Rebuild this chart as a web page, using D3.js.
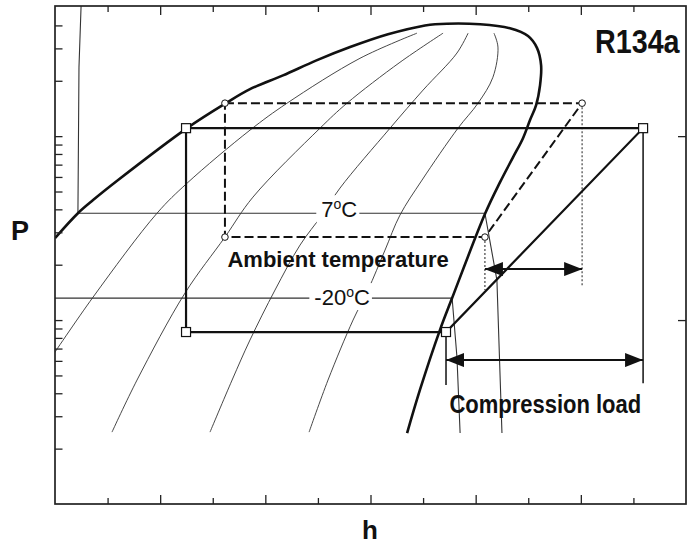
<!DOCTYPE html>
<html>
<head>
<meta charset="utf-8">
<script src="https://cdnjs.cloudflare.com/ajax/libs/d3/7.8.5/d3.min.js"></script>
<style>
  body { margin:0; background:#fff; }
  svg { display:block; }
  text { font-family: "Liberation Sans", Arial, sans-serif; fill:#111; }
</style>
</head>
<body>
<script>
// P-h diagram, h in kJ/kg, P in bar (log scale). values
var hTicks = [225, 250, 275, 300, 325, 350, 375, 400, 425, 450, 475];
var pTicksRight = [1, 10];

// saturation dome, liquid side -> critical point -> vapour side
var dome = [[200.0, 2.79], [210.9, 3.81], [218.1, 4.49], [230.0, 5.77], [262.8, 11.05],
  [281.3, 15.11], [292.7, 18.0], [308.4, 21.4], [324.6, 25.9], [340.3, 30.5], [358.3, 35.8],
  [375.9, 40.0], [380.7, 40.6], [402.1, 40.6], [416.3, 38.6], [424.9, 35.0], [429.2, 30.1],
  [431.1, 24.3], [430.6, 18.9], [428.7, 14.7], [425.8, 12.2], [422.5, 9.75], [417.8, 7.69],
  [411.6, 5.62], [404.4, 3.77], [388.8, 1.317], [383.0, 0.882], [373.5, 0.417], [367.4, 0.243]];

// constant quality lines inside the dome
var q1 = [[372.1, 36.3], [345.0, 26.5], [310.3, 15.1], [292.7, 10.78], [262.8, 5.55], [248.5, 3.81], [218.1, 1.333], [198, 0.62]];
var q2 = [[384.5, 36.3], [364.0, 25.2], [338.8, 15.1], [326.0, 11.05], [294.1, 4.66], [280.8, 2.826], [261.8, 1.402], [239.0, 0.472], [227.1, 0.246]];
var q3 = [[396.4, 36.3], [391.1, 28.3], [375.0, 17.8], [359.3, 11.05], [335.5, 5.22], [326.9, 3.72], [316.5, 2.557], [304.6, 1.456], [292.7, 0.779], [284.2, 0.472], [273.7, 0.246]];
var q4 = [[408.7, 36.3], [410.6, 30.5], [408.2, 20.9], [401.1, 15.1], [391.6, 11.05], [374.5, 5.77], [364.0, 3.72], [356.9, 2.40], [348.8, 1.456], [341.7, 1.0], [329.8, 0.472], [320.8, 0.246]];

// isotherms
var t7 = [[212.4, 51], [211.4, 23.7], [210.9, 3.81], [404.4, 3.81], [410.1, 1.65], [412.5, 0.243]];
var tm20 = [[198, 1.317], [388.8, 1.317], [391.1, 0.630], [392.6, 0.243]];

// cycles
var cycleSolid = [[262.3, 11.05], [479.6, 11.05], [385.9, 0.861], [262.3, 0.861]];
var cycleDashed = [[280.8, 15.11], [450.6, 15.11], [404.4, 2.826], [280.8, 2.826]];

// guides and dimension arrows
var dotted = [[[450.6, 15.11], [450.6, 1.512]], [[404.4, 2.826], [404.4, 1.456]]];
var extLines = [[[385.9, 0.861], [385.9, 0.443]], [[479.6, 11.05], [479.6, 0.454]]];
var arrowAmbient = [[404.4, 1.893], [450.6, 1.893]];
var arrowLoad = [[385.9, 0.606], [479.6, 0.606]];

var W = 689, H = 544;
var x = d3.scaleLinear().domain([200, 500]).range([55, 686]);
var y = d3.scaleLog().domain([0.1, 51]).range([504, 6]);

var svg = d3.select("body").append("svg").attr("width", W).attr("height", H);

var defs = svg.append("defs");
defs.append("clipPath").attr("id", "plot")
  .append("rect").attr("x", 55).attr("y", 6).attr("width", 631).attr("height", 498);
defs.append("marker").attr("id", "head").attr("viewBox", "0 0 18 14")
  .attr("refX", 18).attr("refY", 7).attr("markerWidth", 18).attr("markerHeight", 14)
  .attr("markerUnits", "userSpaceOnUse").attr("orient", "auto-start-reverse")
  .append("path").attr("d", "M0,0L18,7L0,14Z").attr("fill", "#111");

var smooth = d3.line().x(function(d){return x(d[0])}).y(function(d){return y(d[1])})
  .curve(d3.curveCatmullRom.alpha(0.5));
var straight = d3.line().x(function(d){return x(d[0])}).y(function(d){return y(d[1])});

var g = svg.append("g").attr("clip-path", "url(#plot)");

// thin lines
[q1, q2, q3, q4].forEach(function(q){
  g.append("path").attr("d", smooth(q)).attr("fill", "none").attr("stroke", "#333").attr("stroke-width", 0.9);
});
[t7, tm20].forEach(function(t){
  g.append("path").attr("d", straight(t)).attr("fill", "none").attr("stroke", "#333").attr("stroke-width", 1.1);
});

// dome
g.append("path").attr("d", smooth(dome)).attr("fill", "none").attr("stroke", "#111").attr("stroke-width", 2.6);

// guides
dotted.forEach(function(l){
  g.append("path").attr("d", straight(l)).attr("stroke", "#333").attr("stroke-width", 1.1).attr("stroke-dasharray", "2,2");
});
extLines.forEach(function(l){
  g.append("path").attr("d", straight(l)).attr("stroke", "#111").attr("stroke-width", 1.5);
});

// cycles
g.append("path").attr("d", straight(cycleDashed) + "Z").attr("fill", "none")
  .attr("stroke", "#111").attr("stroke-width", 2).attr("stroke-dasharray", "9,4");
g.append("path").attr("d", straight(cycleSolid) + "Z").attr("fill", "none")
  .attr("stroke", "#111").attr("stroke-width", 2.2);

// arrows
[arrowAmbient, arrowLoad].forEach(function(a){
  g.append("path").attr("d", straight(a)).attr("stroke", "#111").attr("stroke-width", 2)
    .attr("marker-start", "url(#head)").attr("marker-end", "url(#head)");
});

// markers
g.selectAll("circle.pt").data(cycleDashed).enter().append("circle")
  .attr("cx", function(d){return x(d[0])}).attr("cy", function(d){return y(d[1])})
  .attr("r", 3.3).attr("fill", "#fff").attr("stroke", "#111").attr("stroke-width", 1);
g.selectAll("rect.pt").data(cycleSolid).enter().append("rect")
  .attr("x", function(d){return x(d[0]) - 4.5}).attr("y", function(d){return y(d[1]) - 4.5})
  .attr("width", 9).attr("height", 9).attr("fill", "#fff").attr("stroke", "#111").attr("stroke-width", 1.2);

// axes with inward ticks
function isMajor(d){ return d % 50 === 0; }
var bottomAx = svg.append("g").attr("transform", "translate(0,504)")
  .call(d3.axisBottom(x).tickValues(hTicks).tickSize(-9).tickFormat(""));
bottomAx.selectAll(".tick line").attr("y2", function(d){return isMajor(d) ? -9 : -6});
var topAx = svg.append("g").attr("transform", "translate(0,6)")
  .call(d3.axisTop(x).tickValues(hTicks).tickSize(-9).tickFormat(""));
topAx.selectAll(".tick line").attr("y2", function(d){return isMajor(d) ? 9 : 6});
var leftVals = y.ticks().filter(function(d){return d > 0.1 && d < 50});
svg.append("g").attr("transform", "translate(55,0)")
  .call(d3.axisLeft(y).tickValues(leftVals).tickSize(-7.5).tickFormat(""));
svg.append("g").attr("transform", "translate(686,0)")
  .call(d3.axisRight(y).tickValues(pTicksRight).tickSize(-8).tickFormat(""));
svg.selectAll(".domain").remove();
svg.selectAll(".tick line").attr("stroke", "#222").attr("stroke-width", 1.3);

svg.append("rect").attr("x", 55).attr("y", 6).attr("width", 631).attr("height", 498)
  .attr("fill", "none").attr("stroke", "#222").attr("stroke-width", 1.7);

// temperature labels with white backing
function tempLabel(txt, h, p, dy){
  var t = svg.append("text").attr("x", x(h)).attr("y", y(p) + dy)
    .style("font-size", "22px");
  t.append("tspan").text(txt);
  t.append("tspan").text("o").style("font-size", "14px").attr("dy", -8);
  t.append("tspan").text("C").attr("dy", 8);
  var b = t.node().getBBox();
  svg.insert("rect", function(){ return t.node(); })
    .attr("x", b.x - 5).attr("y", b.y - 1).attr("width", b.width + 7).attr("height", b.height + 1)
    .attr("fill", "#fff");
}
tempLabel("7", 326.6, 3.81, 4);
tempLabel("-20", 323.3, 1.317, 7);

svg.append("text").attr("x", x(282)).attr("y", y(1.95)).style("font-size", "22px").style("font-weight", "bold")
  .text("Ambient temperature");
svg.append("text").attr("transform", "translate(" + x(387.5) + "," + y(0.312) + ") scale(0.88,1)")
  .style("font-size", "25px").style("font-weight", "bold").text("Compression load");
svg.append("text").attr("transform", "translate(595,53) scale(0.87,1)")
  .style("font-size", "33px").style("font-weight", "bold").text("R134a");
svg.append("text").attr("x", 20).attr("y", 240).attr("text-anchor", "middle")
  .style("font-size", "27px").style("font-weight", "bold").text("P");
svg.append("text").attr("x", 370).attr("y", 539).attr("text-anchor", "middle")
  .style("font-size", "26px").style("font-weight", "bold").text("h");
</script>
</body>
</html>
